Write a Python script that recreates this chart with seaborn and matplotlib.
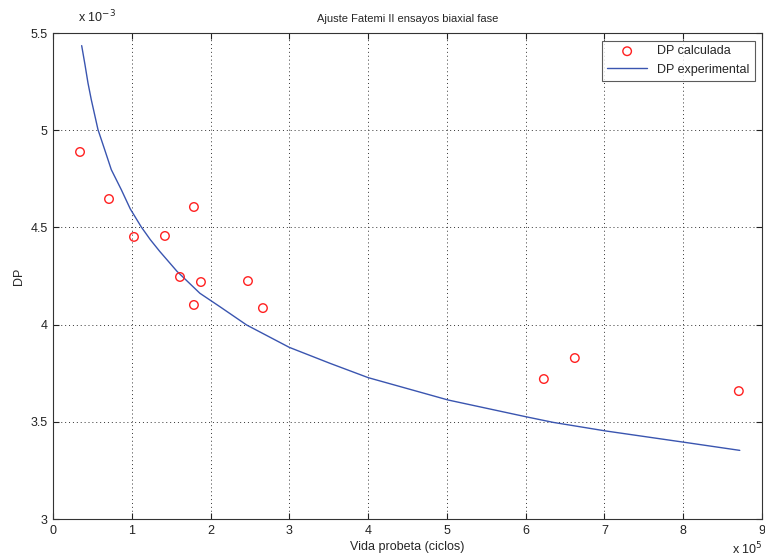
import numpy as np
import pandas as pd
import matplotlib
matplotlib.use("Agg")
import matplotlib.pyplot as plt
import seaborn as sns
from matplotlib.ticker import FuncFormatter, MultipleLocator

# puntos calculados (vida en ciclos, DP)
vida_calc = [0.343e5, 0.711e5, 1.028e5, 1.421e5, 1.789e5, 1.612e5, 1.878e5,
             1.789e5, 2.475e5, 2.665e5, 6.231e5, 6.624e5, 8.706e5]
dp_calc = [4.888e-3, 4.646e-3, 4.451e-3, 4.456e-3, 4.605e-3, 4.245e-3, 4.219e-3,
           4.101e-3, 4.224e-3, 4.085e-3, 3.720e-3, 3.828e-3, 3.658e-3]

# curva experimental
vida_exp = [0.364e5, 0.406e5, 0.444e5, 0.486e5, 0.571e5, 0.656e5, 0.740e5, 0.867e5,
            0.981e5, 1.121e5, 1.235e5, 1.354e5, 1.574e5, 1.865e5, 2.119e5,
            2.458e5, 2.999e5, 3.515e5, 4.002e5, 5.017e5, 6.003e5, 6.350e5,
            7.014e5, 8.008e5, 8.718e5]
dp_exp = [5.435e-3, 5.337e-3, 5.243e-3, 5.157e-3, 5.003e-3, 4.900e-3, 4.797e-3, 4.694e-3,
          4.595e-3, 4.502e-3, 4.437e-3, 4.377e-3, 4.274e-3, 4.161e-3, 4.092e-3,
          3.998e-3, 3.883e-3, 3.801e-3, 3.727e-3, 3.612e-3, 3.526e-3, 3.497e-3,
          3.453e-3, 3.395e-3, 3.353e-3]

df_calc = pd.DataFrame({"vida": vida_calc, "dp": dp_calc})
df_exp = pd.DataFrame({"vida": vida_exp, "dp": dp_exp})

sns.set_style("ticks")
plt.rcParams["font.family"] = ["Liberation Sans", "DejaVu Sans"]
plt.rcParams["font.size"] = 8

fig = plt.figure(figsize=(7.65, 5.59), dpi=100)
ax = fig.add_axes([53/765, 1-519/559, (762-53)/765, (519-33)/559])

sns.scatterplot(data=df_calc, x="vida", y="dp", ax=ax, marker="o", s=38,
                facecolor="none", edgecolor="#ff2020", linewidth=1,
                label="DP calculada", zorder=3)
sns.lineplot(data=df_exp, x="vida", y="dp", ax=ax, sort=False, color="#3a55b0",
             linewidth=1, label="DP experimental")

ax.set_xlim(0, 9e5)
ax.set_ylim(3e-3, 5.5e-3)
ax.xaxis.set_major_locator(MultipleLocator(1e5))
ax.yaxis.set_major_locator(MultipleLocator(0.5e-3))
ax.xaxis.set_major_formatter(FuncFormatter(lambda v, p: f"{v/1e5:g}"))
ax.yaxis.set_major_formatter(FuncFormatter(lambda v, p: f"{v/1e-3:g}"))
ax.tick_params(direction="in", top=True, right=True, length=4, width=0.8,
               labelsize=9, colors="#222222", pad=4)
ax.grid(True, color="#333333", linestyle=(0, (1, 3)), linewidth=0.7)
for s in ax.spines.values():
    s.set_color("#333333")
    s.set_linewidth(0.8)

ax.set_title("Ajuste Fatemi II ensayos biaxial fase", fontsize=8, pad=8)
ax.set_xlabel("Vida probeta (ciclos)", fontsize=9, labelpad=3)
ax.set_ylabel("DP", fontsize=9, labelpad=4)

fig.text(78/765, 1 - 22/559, r"x 10$^{-3}$", fontsize=9, ha="left",
         va="baseline", color="#222222")
fig.text(732/765, 1 - 554/559, r"x 10$^{5}$", fontsize=9, ha="left",
         va="baseline", color="#222222")

leg = ax.legend(loc="upper right", fontsize=9, frameon=True, fancybox=False,
                borderaxespad=0.6, handlelength=3.2, borderpad=0.4)
leg.get_frame().set_edgecolor("#333333")
leg.get_frame().set_linewidth(0.8)

fig.savefig("out.png", dpi=100)
